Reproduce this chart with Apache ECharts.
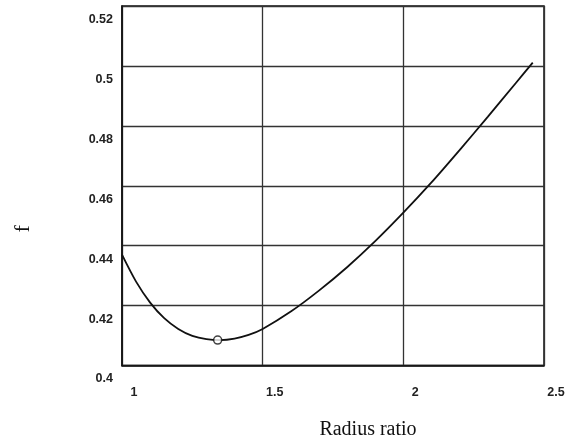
<!DOCTYPE html>
<html>
<head>
<meta charset="utf-8">
<script src="https://cdn.jsdelivr.net/npm/echarts@6/dist/echarts.min.js"></script>
<style>
  html, body { margin: 0; padding: 0; background: #ffffff; }
  #chart { width: 569px; height: 441px; }
</style>
</head>
<body>
<div id="chart"></div>
<script>
// Radius ratio (x) and friction factor f (y) along the curve
const radiusRatio = [1.00, 1.05, 1.10, 1.15, 1.20, 1.25, 1.30, 1.35, 1.40, 1.45, 1.50, 1.60, 1.70, 1.80, 1.90, 2.00, 2.10, 2.20, 2.30, 2.40, 2.46];
const fValues     = [0.4370, 0.4280, 0.4210, 0.4158, 0.4122, 0.4099, 0.4088, 0.4085, 0.4090, 0.4102, 0.4122, 0.4180, 0.4250, 0.4328, 0.4415, 0.4510, 0.4611, 0.4719, 0.4830, 0.4943, 0.5011];

// Optimum point marked with a hollow circle
const optimumRatio = [1.34];
const optimumF = [0.4085];

// Axis tick values
const xTicks = [1, 1.5, 2, 2.5];
const yTicks = [0.4, 0.42, 0.44, 0.46, 0.48, 0.5, 0.52];

const curve = radiusRatio.map((x, i) => [x, fValues[i]]);
const optimum = optimumRatio.map((x, i) => [x, optimumF[i]]);

const chart = echarts.init(document.getElementById('chart'), null, { renderer: 'canvas' });

const tickFont = {
  fontFamily: 'Liberation Sans, Arial, sans-serif',
  fontSize: 12.5,
  fontWeight: 'bold',
  color: '#222'
};

chart.setOption({
  animation: false,
  backgroundColor: '#ffffff',
  grid: {
    left: 122, top: 6, right: 25, bottom: 75.5,
    show: true, borderColor: '#111', borderWidth: 1.5,
    containLabel: false,
    outerBoundsMode: 'none'
  },
  xAxis: {
    type: 'value',
    min: xTicks[0], max: xTicks[xTicks.length - 1], interval: 0.5,
    name: 'Radius ratio',
    nameLocation: 'middle',
    nameGap: 54,
    nameTextStyle: {
      fontFamily: 'Liberation Serif, Times New Roman, serif',
      fontSize: 20, color: '#111',
      padding: [0, 0, 0, 70]
    },
    axisLine: { show: true, lineStyle: { color: '#111', width: 1.5 } },
    axisTick: { show: false },
    splitLine: { show: true, lineStyle: { color: '#333', width: 1.3 } },
    axisLabel: Object.assign({}, tickFont, {
      margin: 21,
      padding: [0, 0, 0, 24],
      formatter: v => String(v)
    })
  },
  yAxis: {
    type: 'value',
    min: yTicks[0], max: yTicks[yTicks.length - 1], interval: 0.02,
    name: 'f',
    nameLocation: 'middle',
    nameGap: 88,
    nameRotate: 90,
    nameTextStyle: {
      fontFamily: 'Liberation Serif, Times New Roman, serif',
      fontSize: 22, color: '#111',
      padding: [0, 86, 0, 0]
    },
    axisLine: { show: true, lineStyle: { color: '#111', width: 1.5 } },
    axisTick: { show: false },
    splitLine: { show: true, lineStyle: { color: '#333', width: 1.3 } },
    axisLabel: Object.assign({}, tickFont, {
      margin: 9,
      verticalAlign: 'top',
      padding: [7, 0, 0, 0],
      formatter: v => String(+v.toFixed(2))
    })
  },
  series: [
    {
      type: 'line',
      data: curve,
      smooth: 0.3,
      showSymbol: false,
      lineStyle: { color: '#111', width: 1.8 }
    },
    {
      type: 'scatter',
      data: optimum,
      symbol: 'circle',
      symbolSize: 8,
      itemStyle: { color: '#ffffff', borderColor: '#111', borderWidth: 1.5 },
      z: 5
    }
  ]
});
</script>
</body>
</html>
